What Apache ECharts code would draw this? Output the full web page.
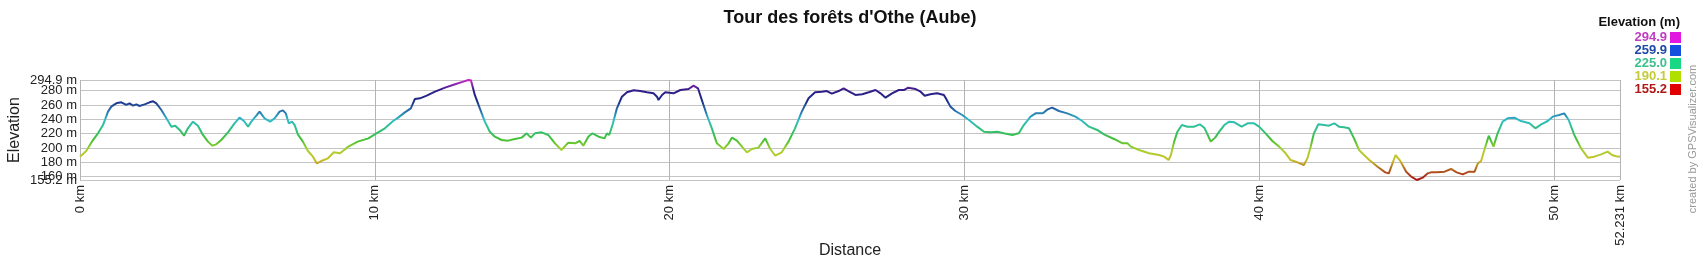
<!DOCTYPE html>
<html>
<head>
<meta charset="utf-8">
<script src="https://cdn.jsdelivr.net/npm/echarts@6/dist/echarts.min.js"></script>
<style>
html,body{margin:0;padding:0;background:#fff;}
#chart{width:1700px;height:260px;}
</style>
</head>
<body>
<div id="chart"></div>
<script>
// ---- data ----
const titleText = "Tour des forêts d'Othe (Aube)";
const distanceKm = [
0,0.21,0.44,0.61,0.78,0.95,1.06,1.23,1.40,1.57,1.68,1.80,1.91,2.02,2.19,2.36,2.48,2.59,2.76,2.93,3.10,3.23,3.38,3.53,3.66,3.83,4.00,4.17,4.34,4.49,4.62,4.79,5.02,5.24,5.41,5.56,5.70,5.81,5.98,6.09,6.26,6.45,6.60,6.77,6.88,6.98,7.08,7.19,7.28,7.39,7.56,7.73,7.90,8.03,8.18,8.41,8.61,8.82,
9.10,9.42,9.78,10.00,10.34,10.62,10.79,11.02,11.22,11.36,11.53,11.76,12.04,12.38,12.72,13.00,13.17,13.26,13.39,13.56,13.73,13.90,14.07,14.30,14.52,14.75,14.98,15.15,15.29,15.43,15.66,15.88,16.11,16.33,16.56,16.79,16.95,17.07,17.24,17.38,
17.59,17.79,17.87,17.95,18.06,18.21,18.38,18.55,18.78,19.00,19.23,19.45,19.57,19.62,19.74,19.85,20.13,20.36,20.64,20.81,20.96,21.09,21.26,21.43,21.60,21.83,22.00,22.11,22.28,22.45,22.62,22.79,23.01,23.24,23.41,23.58,23.80,24.03,24.25,24.48,24.71,24.93,25.16,25.33,25.50,25.73,25.90,26.06,
26.30,26.53,26.75,26.98,27.15,27.32,27.54,27.77,27.94,28.09,28.34,28.51,28.65,28.84,29.07,29.30,29.38,29.52,29.69,29.92,30.15,30.43,30.66,30.88,31.11,31.33,31.62,31.84,32.01,32.24,32.41,32.66,32.80,32.97,33.20,33.48,33.76,33.99,34.22,34.50,34.73,
35.07,35.36,35.53,35.64,35.92,36.26,36.60,36.77,36.92,37.00,37.11,37.22,37.37,37.56,37.79,37.98,38.13,38.24,38.35,38.50,38.64,38.81,38.98,39.15,39.40,39.60,39.82,39.99,40.21,40.44,40.67,40.89,41.06,41.29,41.51,41.63,41.74,41.85,42.00,42.19,42.36,42.54,42.70,42.87,43.04,43.21,43.38,43.55,
43.73,44.01,44.27,44.39,44.62,44.78,44.98,45.15,45.34,45.54,45.71,45.82,46.02,46.28,46.50,46.69,46.90,47.10,47.30,47.41,47.52,47.63,47.78,47.94,48.08,48.25,48.42,48.65,48.87,49.16,49.36,49.56,49.78,49.95,50.17,50.34,50.49,50.68,50.91,51.14,51.36,51.59,51.81,51.96,52.10,52.231
];
const elevationM = [
187.8,195.7,211,220.4,232,250.7,257.6,262.3,263.7,260,262.3,259.1,260.9,258.6,260.9,263.7,265.1,262.3,253,241.4,229.7,231.1,225.1,217.1,227.4,236.7,231.1,218.1,208.8,203.2,205,211.1,221.8,234.4,242.3,237.6,229.7,236.7,245.1,250.7,241.4,236.7,241.4,250.7,252.5,248.3,234.4,236.7,232,219,208.8,195.7,187.8,178.5,181.7,185.5,193.9,192.5,
201.8,208.8,213.4,219,227.4,237.6,242.3,249.7,255.3,268.4,269.3,273,278.6,284.2,288.9,292.6,294.9,294.4,274,255.3,236.7,222.7,215.7,211.1,210.2,212.5,214.4,220.4,214.4,220.4,221.8,218.1,206.4,197.1,207.4,206.4,209.7,203.2,215.7,220.4,
215.7,213.4,220.4,218.1,232,255.3,271.6,277.7,280.5,279.5,277.7,276.3,271.6,267,274,277.7,276.3,280.9,282.3,287,283.3,267,246,227.4,206.4,198.5,206.4,214.4,210.2,201.8,193.9,198.5,200.4,213.4,198.5,189.2,193.9,208.8,227.4,250.7,269.3,277.7,278.6,279.5,275.8,279.5,283.3,279.5,
274,274.9,277.7,280.9,276.3,270.2,276.3,280.9,280.9,284.2,282.3,278.6,273,274.9,276.3,274,268.4,257.7,251.6,246,239,229.7,222.7,221.8,222.7,220.4,218.1,220.4,232,243.7,248.3,248.3,253.5,256.3,251.6,248.3,243.7,237.6,229.7,225.1,219,
212.5,206.4,206.4,201.8,197.1,192.5,190.1,187.8,183.1,190.1,208.8,222.7,232,229.7,229.7,233,228.3,219,208.8,214.4,222.7,232,236.7,235.8,229.7,234.4,234.4,229.7,220.4,209.7,201.8,192.5,183.1,179.9,176.2,185.5,201.8,220.4,233,232,231.1,234.4,229.7,228.8,227.4,213.4,197.1,190.1,
183.1,173.8,165.9,164.5,190.1,181.8,166.8,159.9,155.2,158.5,164.5,165.9,165.9,166.8,170.6,165.9,163.1,166.8,166.8,178.5,181.8,197.1,217.1,201.8,220.4,236.7,241.4,242.3,237.6,234.4,227.4,233,237.6,243.7,246,248.3,239,218.1,199.4,186.4,187.8,191,194.8,190.1,188.3,187.8
];
const xTickValues = [0, 10, 20, 30, 40, 50, 52.231];
const yTickValues = [160, 180, 200, 220, 240, 260, 280];
const yEdgeTickValues = [155.2, 294.9];
const elevMin = 155.2;
const elevMax = 294.9;
const legendTitle = 'Elevation (m)';
const legendValues = ['294.9', '259.9', '225.0', '190.1', '155.2'];
const legendTextColors = ['#c03cc0', '#1f48a8', '#3cc08c', '#c4cc3c', '#b01818'];
const legendSwatchColors = ['#e018e0', '#1450e0', '#18d884', '#b0e000', '#e00000'];
const lineColors = ['#b01010','#b06020','#c8c028','#a8d030','#48c030','#30c078','#30bcc8','#2868a8','#1a2a86','#341c88','#c828c8'];
const creditText = 'created by GPSVisualizer.com';

// ---- chart ----
const chart = echarts.init(document.getElementById('chart'), null, {renderer: 'canvas'});
const seriesData = distanceKm.map((d, i) => [d, elevationM[i]]);
const fontFam = '"Liberation Sans", Arial, sans-serif';

const graphics = [];
graphics.push({
  type: 'text', x: 1680, y: 22,
  style: {text: legendTitle, font: 'bold 13px ' + fontFam, fill: '#111', align: 'right', verticalAlign: 'middle'}
});
legendValues.forEach((v, i) => {
  const cy = 37.5 + i * 13;
  graphics.push({
    type: 'text', x: 1667, y: cy,
    style: {text: v, font: 'bold 13px ' + fontFam, fill: legendTextColors[i], align: 'right', verticalAlign: 'middle'}
  });
  graphics.push({
    type: 'rect', shape: {x: 1670, y: cy - 5.5, width: 11, height: 11},
    style: {fill: legendSwatchColors[i]}
  });
});
graphics.push({
  type: 'text', x: 1693, y: 139, rotation: Math.PI / 2,
  style: {text: creditText, font: '11px ' + fontFam, fill: '#999', align: 'center', verticalAlign: 'middle'}
});

const yLabelStyle = {fontFamily: fontFam, fontSize: 13, color: '#222'};
const gridLineStyle = {color: '#c4c4c4', width: 1};

chart.setOption({
  animation: false,
  backgroundColor: '#fff',
  title: {
    text: titleText, left: 'center', top: 4,
    textStyle: {fontFamily: fontFam, fontSize: 18, fontWeight: 'bold', color: '#111'}
  },
  grid: {left: 80, top: 80, width: 1540, height: 100, containLabel: false, outerBoundsMode: 'none'},
  visualMap: {
    show: false, type: 'continuous', dimension: 1, seriesIndex: 0,
    min: elevMin, max: elevMax,
    inRange: {color: lineColors}
  },
  xAxis: {
    type: 'value', min: 0, max: 52.231,
    name: 'Distance', nameLocation: 'middle', nameGap: 63, nameMoveOverlap: false,
    nameTextStyle: {fontFamily: fontFam, fontSize: 16, color: '#222'},
    axisLine: {show: false},
    axisTick: {show: false, customValues: xTickValues},
    axisLabel: {
      customValues: xTickValues, rotate: 90, margin: 5,
      showMinLabel: true, showMaxLabel: true,
      fontFamily: fontFam, fontSize: 13, color: '#222',
      formatter: v => v + ' km'
    },
    splitLine: {show: true, lineStyle: {color: '#b4b4b4', width: 1}}
  },
  yAxis: [{
    type: 'value', min: elevMin, max: elevMax,
    name: 'Elevation', nameLocation: 'middle', nameGap: 57, nameRotate: 90, nameMoveOverlap: false,
    nameTextStyle: {fontFamily: fontFam, fontSize: 16, color: '#222'},
    axisLine: {show: false},
    axisTick: {show: false, customValues: yTickValues},
    axisLabel: Object.assign({
      customValues: yTickValues, margin: 3,
      showMinLabel: true, showMaxLabel: true,
      formatter: v => v + ' m'
    }, yLabelStyle),
    splitLine: {show: true, lineStyle: gridLineStyle}
  }, {
    type: 'value', min: elevMin, max: elevMax, position: 'left', offset: 0,
    axisLine: {show: false},
    axisTick: {show: false, customValues: yEdgeTickValues},
    axisLabel: Object.assign({
      customValues: yEdgeTickValues, margin: 3,
      showMinLabel: true, showMaxLabel: true,
      formatter: v => v + ' m'
    }, yLabelStyle),
    splitLine: {show: true, lineStyle: gridLineStyle}
  }],
  series: [{
    type: 'line', data: seriesData, showSymbol: false,
    lineStyle: {width: 2}, silent: true
  }],
  graphic: graphics
});
</script>
</body>
</html>
